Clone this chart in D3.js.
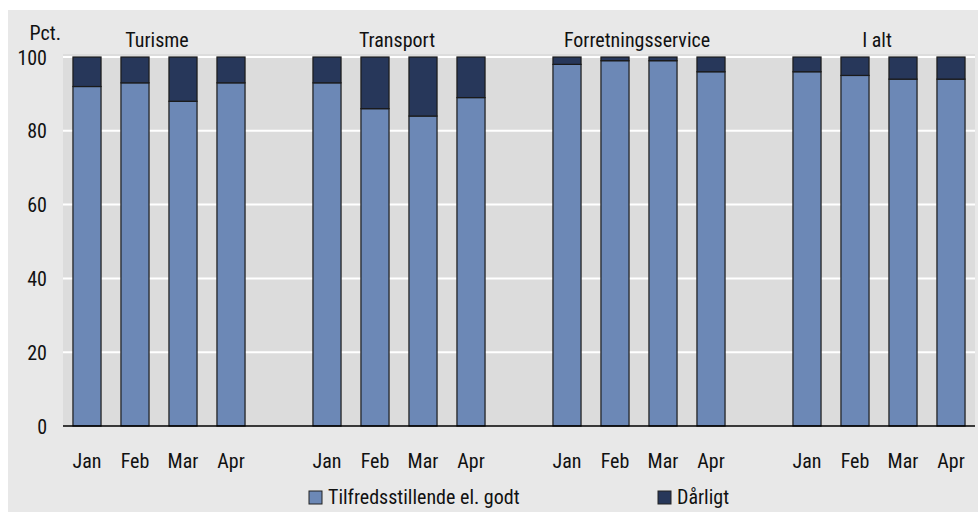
<!DOCTYPE html>
<html><head><meta charset="utf-8">
<script src="https://cdn.jsdelivr.net/npm/d3@7"></script>
<style>
body{margin:0;background:#fff;}
text{font-family:"Liberation Sans Narrow","Arial Narrow","Roboto Condensed","Liberation Sans",sans-serif;fill:#111;}
</style></head>
<body><svg id="c" width="978" height="513"></svg>
<script>
const groups = ["Turisme","Transport","Forretningsservice","I alt"];
const months = ["Jan","Feb","Mar","Apr"];
const good = [
  [92,93,88,93],
  [93,86,84,89],
  [98,99,99,96],
  [96,95,94,94]
];
const bad = good.map(r => r.map(v => 100 - v));
const seriesNames = ["Tilfredsstillende el. godt","Dårligt"];
const colors = ["#6c88b6","#27375a"];
const yTicks = [0,20,40,60,80,100];

const svg = d3.select("#c");
svg.append("rect").attr("x",8).attr("y",10).attr("width",970).attr("height",502).attr("fill","#e8e8e8");

const slots = [];
groups.forEach((g,gi)=>{
  months.forEach(m=>slots.push(g+"|"+m));
  if(gi<groups.length-1) slots.push("gap"+gi);
});
const x = d3.scaleBand().domain(slots).range([63,975]).padding(0);
const y = d3.scaleLinear().domain([0,100]).range([426,57]);
const barW = x.bandwidth()*0.585;
const off = (x.bandwidth()-barW)/2;

svg.append("rect").attr("x",63).attr("y",y(100)-3).attr("width",912).attr("height",y(0)-y(100)+3).attr("fill","#dcdcdc");

svg.append("g").selectAll("line").data(yTicks.filter(d=>d>0)).join("line")
  .attr("x1",63).attr("x2",975).attr("y1",d=>y(d)).attr("y2",d=>y(d))
  .attr("stroke","#fff").attr("stroke-width",2);

const yAxis = d3.axisLeft(y).tickValues(yTicks).tickSize(0).tickPadding(0);
const ya = svg.append("g").attr("transform","translate(47,0)").call(yAxis);
ya.select(".domain").remove();
ya.selectAll("text").style("font-size","20px").attr("fill","#111").attr("dy","0.35em");

svg.append("text").attr("x",61).attr("y",40).attr("text-anchor","end").style("font-size","20px").text("Pct.");

const data = [];
groups.forEach((g,gi)=>months.forEach((m,mi)=>{
  data.push({key:g+"|"+m, s:0, y0:0, y1:good[gi][mi]});
  data.push({key:g+"|"+m, s:1, y0:good[gi][mi], y1:good[gi][mi]+bad[gi][mi]});
}));
svg.append("g").selectAll("rect").data(data).join("rect")
  .attr("x",d=>x(d.key)+off).attr("width",barW)
  .attr("y",d=>y(d.y1)).attr("height",d=>y(d.y0)-y(d.y1))
  .attr("fill",d=>colors[d.s]).attr("stroke","#1a1a1a").attr("stroke-width",1.2);

svg.append("line").attr("x1",63).attr("x2",975).attr("y1",y(0)).attr("y2",y(0)).attr("stroke","#000").attr("stroke-width",1.5);

svg.append("g").selectAll("text").data(slots.filter(s=>!s.startsWith("gap"))).join("text")
  .attr("x",d=>x(d)+x.bandwidth()/2).attr("y",468).attr("text-anchor","middle")
  .style("font-size","20px").text(d=>d.split("|")[1]);

svg.append("g").selectAll("text").data(groups).join("text")
  .attr("x",g=>(x(g+"|Jan")+x(g+"|Apr")+x.bandwidth())/2 - 2)
  .attr("y",47).attr("text-anchor","middle").style("font-size","20px").text(g=>g);

const legX = [309,658];
const lg = svg.append("g").selectAll("g").data(seriesNames).join("g")
  .attr("transform",(d,i)=>`translate(${legX[i]},491)`);
lg.append("rect").attr("width",13).attr("height",13).attr("fill",(d,i)=>colors[i]).attr("stroke","#222").attr("stroke-width",1);
lg.append("text").attr("x",19).attr("y",13).style("font-size","20px").text(d=>d);
</script></body></html>
